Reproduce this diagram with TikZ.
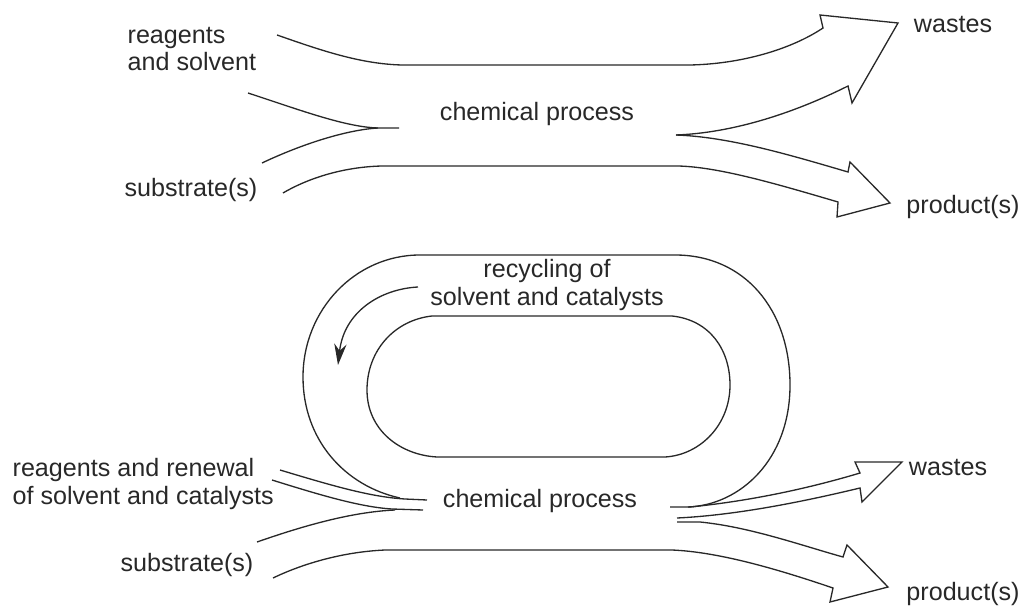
\documentclass[tikz,border=0pt]{standalone}
\usepackage{fontspec}
\setmainfont{Liberation Sans}
\usepackage{xcolor}
\usepackage{tikz}
\usetikzlibrary{arrows.meta}
\usetikzlibrary{calc}
\usetikzlibrary{positioning}

\definecolor{ink}{RGB}{40,40,40}

\begin{document}
\begin{tikzpicture}[x=0.02cm,y=-0.02cm,line width=0.75pt,>={Stealth[length=12pt,width=7pt]},draw=ink,line join=miter]
						\tikzstyle{lbl}=[inner sep=0pt, text=ink, font=\fontsize{14.3}{15.6}\selectfont]
						\tikzstyle{flow}=[draw=ink]
						\useasboundingbox (0,0) rectangle (1026,607);

						% upper picture: one way through
						\node[lbl,align=left,anchor=west] 	(rs1) at (127,49)	{reagents\\and solvent};
						\node[lbl] 			(cp1) at (537,114)		{chemical process};
						\node[lbl] 			(sub1) at (191,190)		{substrate(s)};
						\node[lbl] 			(was1) at (953,25)		{wastes};
						\node[lbl] 			(pro1) at (963,207)		{product(s)};

						\path[flow]
							(277,35) .. controls (320,50) and (360,64) .. (402,65) -- (690,65)
							.. controls (740,64) and (790,50) .. (823,28) -- (820,15) -- (898,23) -- (852,103) -- (848,86)
							.. controls (790,115) and (730,133) .. (676,135);
						\path[flow]
							(248,93) .. controls (300,110) and (345,127) .. (378,128) -- (399,128);
						\path[flow]
							(262,163) .. controls (300,145) and (345,130) .. (378,128);
						\path[flow]
							(676,135) .. controls (730,137) and (790,155) .. (848,172) -- (850,162) -- (890,203) -- (837,217) -- (838,202)
							.. controls (780,185) and (720,167) .. (678,166) -- (382,166)
							.. controls (340,167) and (305,180) .. (283,193);

						% lower picture: with recycling
						\node[lbl,align=center] 	(rec) at (547,285)	{recycling of\\solvent and catalysts};
						\node[lbl,align=left,anchor=west] 	(rr2) at (12,484)	{reagents and renewal\\of solvent and catalysts};
						\node[lbl] 			(cp2) at (540,501)		{chemical process};
						\node[lbl] 			(sub2) at (187,565)		{substrate(s)};
						\node[lbl] 			(was2) at (948,467)		{wastes};
						\node[lbl] 			(pro2) at (963,594)		{product(s)};

						% outer loop
						\path[flow]
							(400,498) .. controls (345,486) and (303,440) .. (303,377)
							.. controls (303,310) and (355,255) .. (420,255) -- (675,255)
							.. controls (745,255) and (790,310) .. (790,385)
							.. controls (790,460) and (740,505) .. (688,507);
						% inner loop
						\path[flow]
							(432,316) -- (672,316)
							.. controls (710,320) and (730,350) .. (730,385)
							.. controls (730,425) and (700,455) .. (665,457) -- (437,457)
							.. controls (400,455) and (367,430) .. (367,390)
							.. controls (367,350) and (395,320) .. (432,316);
						\draw[->] (418,287) .. controls (380,289) and (344,312) .. (338,365);

						% inputs
						\path[flow]
							(280,470) .. controls (330,485) and (370,497) .. (405,499) -- (427,500);
						\path[flow]
							(272,480) .. controls (320,495) and (360,507) .. (392,509) -- (423,510);
						\path[flow]
							(257,542) .. controls (300,527) and (350,512) .. (395,510);

						% outputs
						\path[flow]
							(670,507) -- (690,507) .. controls (760,500) and (820,485) .. (860,473) -- (855,462) -- (902,462) -- (862,502) -- (860,488)
							.. controls (810,500) and (740,515) .. (677,518);
						\path[flow]
							(677,522) -- (700,522) .. controls (750,527) and (800,545) .. (843,557) -- (847,545) -- (888,587) -- (830,602) -- (833,588)
							.. controls (780,570) and (720,552) .. (672,550) -- (385,550)
							.. controls (340,552) and (300,565) .. (273,578);
\end{tikzpicture}
\end{document}
